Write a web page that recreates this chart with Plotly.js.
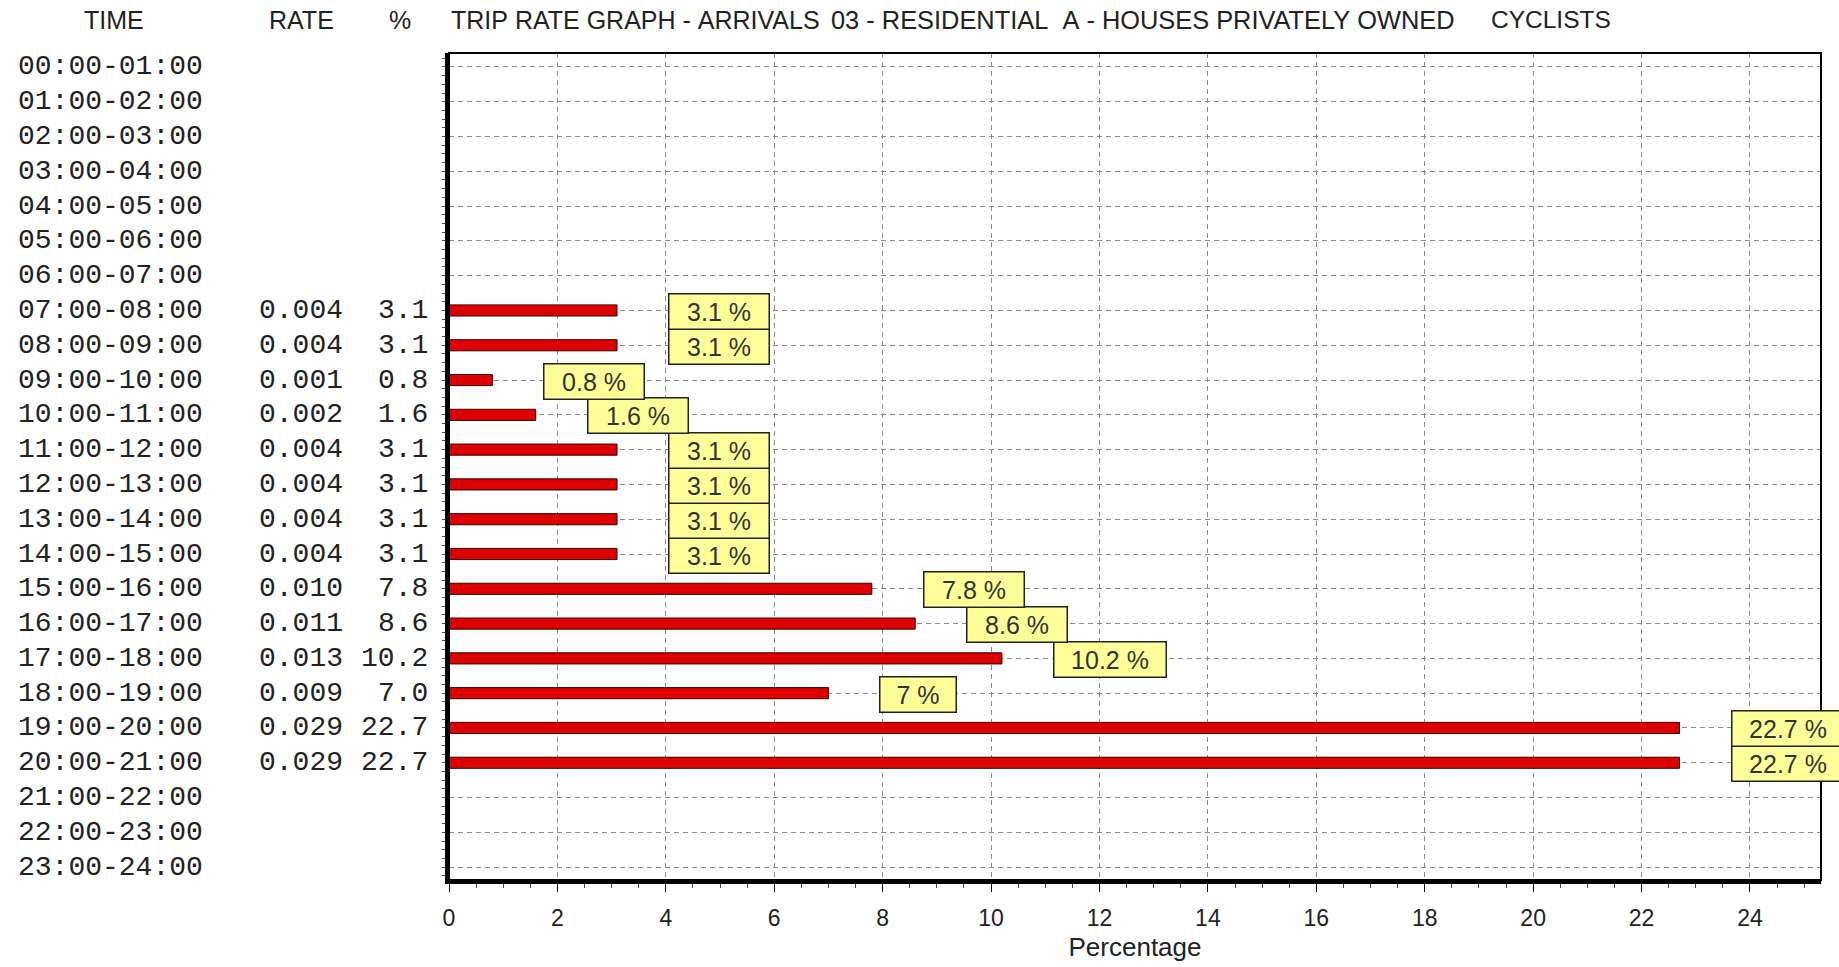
<!DOCTYPE html>
<html>
<head>
<meta charset="utf-8">
<script src="https://cdn.plot.ly/plotly-3.0.1.min.js"></script>
<style>
html,body{margin:0;padding:0;background:#fff;}
#chart{width:1839px;height:967px;}
</style>
</head>
<body>
<div id="chart"></div>
<script>
// ---- data ----
const times = ["00:00-01:00","01:00-02:00","02:00-03:00","03:00-04:00","04:00-05:00","05:00-06:00",
  "06:00-07:00","07:00-08:00","08:00-09:00","09:00-10:00","10:00-11:00","11:00-12:00",
  "12:00-13:00","13:00-14:00","14:00-15:00","15:00-16:00","16:00-17:00","17:00-18:00",
  "18:00-19:00","19:00-20:00","20:00-21:00","21:00-22:00","22:00-23:00","23:00-24:00"];
const rates = [null,null,null,null,null,null,null,0.004,0.004,0.001,0.002,0.004,0.004,0.004,0.004,
  0.010,0.011,0.013,0.009,0.029,0.029,null,null,null];
const pcts = [null,null,null,null,null,null,null,3.1,3.1,0.8,1.6,3.1,3.1,3.1,3.1,
  7.8,8.6,10.2,7.0,22.7,22.7,null,null,null];
const headers = ["TIME","RATE","%"];
const titleParts = ["TRIP RATE GRAPH - ARRIVALS","03 - RESIDENTIAL  A - HOUSES PRIVATELY OWNED","CYCLISTS"];
const xTitle = "Percentage";

// ---- layout constants ----
const L = 449, R = 18, T = 53, B = 87, W = 1839, H = 967;
const PW = W - L - R;
const px = v => (v - L) / PW;          // page px -> paper x
const py = v => 1 + (T - v) / (H - T - B); // page px -> paper y
const idx = times.map((_, i) => i);
const textColor = '#222';
const mono = '"Liberation Mono", "DejaVu Sans Mono", monospace';
const sans = '"Liberation Sans", Arial, sans-serif';

const annotations = [];
// headers
const headerX = [114, 301, 400];
headers.forEach((h, i) => annotations.push({
  text: h, xref: 'paper', yref: 'paper', x: px(headerX[i]), y: py(20),
  xanchor: 'center', yanchor: 'middle', showarrow: false,
  font: {family: sans, size: 25, color: textColor}
}));
const titleX = [449, 829, 1489];
const titleSize = [25, 25.4, 24.5];
titleParts.forEach((t, i) => annotations.push({
  text: t.replace(/ /g, '\u00a0'), xref: 'paper', yref: 'paper', x: px(titleX[i]), y: py(20),
  xanchor: 'left', yanchor: 'middle', showarrow: false,
  font: {family: sans, size: titleSize[i], color: textColor}
}));
// table columns
times.forEach((t, i) => {
  annotations.push({text: t, xref: 'paper', yref: 'y', x: px(16), y: i,
    xanchor: 'left', yanchor: 'middle', showarrow: false,
    font: {family: mono, size: 28, color: textColor}});
  if (rates[i] !== null) {
    annotations.push({text: rates[i].toFixed(3), xref: 'paper', yref: 'y', x: px(345), y: i,
      xanchor: 'right', yanchor: 'middle', showarrow: false,
      font: {family: mono, size: 28, color: textColor}});
    annotations.push({text: pcts[i].toFixed(1), xref: 'paper', yref: 'y', x: px(430), y: i,
      xanchor: 'right', yanchor: 'middle', showarrow: false,
      font: {family: mono, size: 28, color: textColor}});
  }
});
// value boxes (drawn bottom-up so upper boxes overlap lower ones)
for (let i = times.length - 1; i >= 0; i--) {
  if (pcts[i] === null) continue;
  const label = String(pcts[i]) + ' %';
  annotations.push({
    text: label, xref: 'x', yref: 'y', x: pcts[i], y: i,
    xanchor: 'left', yanchor: 'middle', xshift: 51, yshift: -1, showarrow: false,
    bgcolor: '#ffff99', bordercolor: '#222', borderwidth: 1.5, borderpad: 3,
    width: 69 + (label.length - 3) * 12, height: 28, align: 'center',
    font: {family: sans, size: 25, color: '#333'}
  });
}

const trace = {
  type: 'bar', orientation: 'h', x: pcts, y: idx, width: 0.32,
  marker: {color: '#dd0000', line: {color: '#3a0000', width: 1}},
  hoverinfo: 'skip'
};

const layout = {
  width: W, height: H,
  margin: {l: L, r: R, t: T, b: B, pad: 0},
  paper_bgcolor: '#fff', plot_bgcolor: '#fff',
  showlegend: false,
  xaxis: {
    range: [0, 25.31], tick0: 0, dtick: 2, zeroline: false,
    showline: true, linewidth: 4, linecolor: '#000',
    ticks: 'outside', ticklen: 8, tickwidth: 1, tickcolor: '#000',
    ticklabelstandoff: 6,
    showgrid: true, gridcolor: '#8a8a8a', gridwidth: 1, griddash: '5px,4px',
    minor: {dtick: 0.5, tick0: 0, ticks: 'outside', ticklen: 4, tickcolor: '#444', showgrid: false},
    tickfont: {family: sans, size: 23, color: textColor},
    title: {text: xTitle, font: {family: sans, size: 26, color: textColor}, standoff: 9}
  },
  yaxis: {
    range: [23.37, -0.4], tickmode: 'array', tickvals: idx, ticktext: idx.map(() => ''),
    showticklabels: false, zeroline: false,
    showline: true, linewidth: 4, linecolor: '#000',
    ticks: 'outside', ticklen: 8, tickwidth: 1, tickcolor: '#000',
    showgrid: true, gridcolor: '#8a8a8a', gridwidth: 1, griddash: '5px,4px',
    minor: {dtick: 0.25, tick0: 0, ticks: 'outside', ticklen: 3, tickcolor: '#555', showgrid: false}
  },
  shapes: [{type: 'rect', xref: 'paper', yref: 'paper', x0: 0, x1: 1, y0: 0, y1: 1,
    line: {color: '#000', width: 2}, layer: 'above'}],
  annotations: annotations
};

Plotly.newPlot('chart', [trace], layout, {displayModeBar: false, staticPlot: true});
</script>
</body>
</html>
